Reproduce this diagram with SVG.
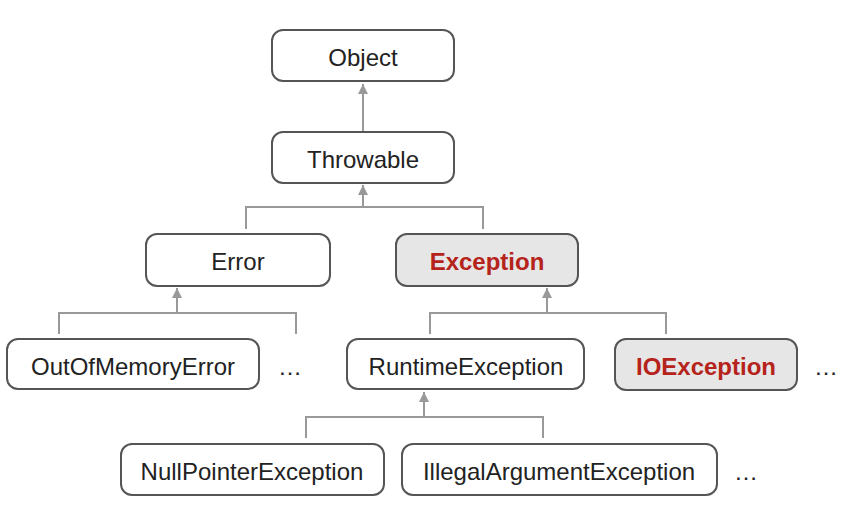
<svg xmlns="http://www.w3.org/2000/svg" width="847" height="505" viewBox="0 0 847 505">
<defs>
<marker id="ah" viewBox="0 0 10 10" refX="10" refY="5" markerWidth="5" markerHeight="5" orient="auto" markerUnits="strokeWidth">
<path d="M0,0 L10,5 L0,10 z" fill="#999"/>
</marker>
</defs>
<style>
.box{fill:#fff;stroke:#555;stroke-width:2}
.hl{fill:#e6e6e6;stroke:#555;stroke-width:2}
.t{font-family:"Liberation Sans",Arial,sans-serif;font-size:24px;fill:#222;text-anchor:middle;dominant-baseline:central}
.r{font-family:"Liberation Sans",Arial,sans-serif;font-size:24px;font-weight:bold;fill:#b5231b;text-anchor:middle;dominant-baseline:central}
.c{fill:none;stroke:#999;stroke-width:2}
.a{fill:none;stroke:#999;stroke-width:2;marker-end:url(#ah)}
</style>
<rect width="847" height="505" fill="#fff"/>
<g id="connectors">
<path class="a" d="M363,132 V84"/>
<path class="c" d="M246,229 V207 H483 V229"/>
<path class="a" d="M363,207 V185"/>
<path class="c" d="M59,334 V313 H296 V334"/>
<path class="a" d="M177,313 V288"/>
<path class="c" d="M430,334 V313 H666 V334"/>
<path class="a" d="M547,313 V288"/>
<path class="c" d="M306,438 V417 H543 V438"/>
<path class="a" d="M424,417 V392"/>
</g>
<g id="object"><rect class="box" x="272" y="30" width="182" height="51" rx="11"/><text class="t" x="363" y="57">Object</text></g>
<g id="throwable"><rect class="box" x="272" y="132" width="182" height="51" rx="11"/><text class="t" x="363" y="159">Throwable</text></g>
<g id="error"><rect class="box" x="146" y="234" width="184" height="52" rx="11"/><text class="t" x="238" y="261">Error</text></g>
<g id="exception"><rect class="hl" x="396" y="234" width="182" height="52" rx="11"/><text class="r" x="487" y="261">Exception</text></g>
<g id="outofmemoryerror"><rect class="box" x="7" y="339" width="252" height="50" rx="11"/><text class="t" x="133" y="366">OutOfMemoryError</text></g>
<g id="dots1"><text class="t" x="290" y="366">…</text></g>
<g id="runtimeexception"><rect class="box" x="347" y="339" width="237" height="50" rx="11"/><text class="t" x="466" y="366">RuntimeException</text></g>
<g id="ioexception"><rect class="hl" x="615" y="339" width="182" height="51" rx="11"/><text class="r" x="706" y="366">IOException</text></g>
<g id="dots2"><text class="t" x="826" y="366">…</text></g>
<g id="nullpointerexception"><rect class="box" x="121" y="444" width="263" height="51" rx="11"/><text class="t" x="252" y="471">NullPointerException</text></g>
<g id="illegalargumentexception"><rect class="box" x="402" y="444" width="315" height="51" rx="11"/><text class="t" x="559" y="471">IllegalArgumentException</text></g>
<g id="dots3"><text class="t" x="746" y="471">…</text></g>
</svg>
